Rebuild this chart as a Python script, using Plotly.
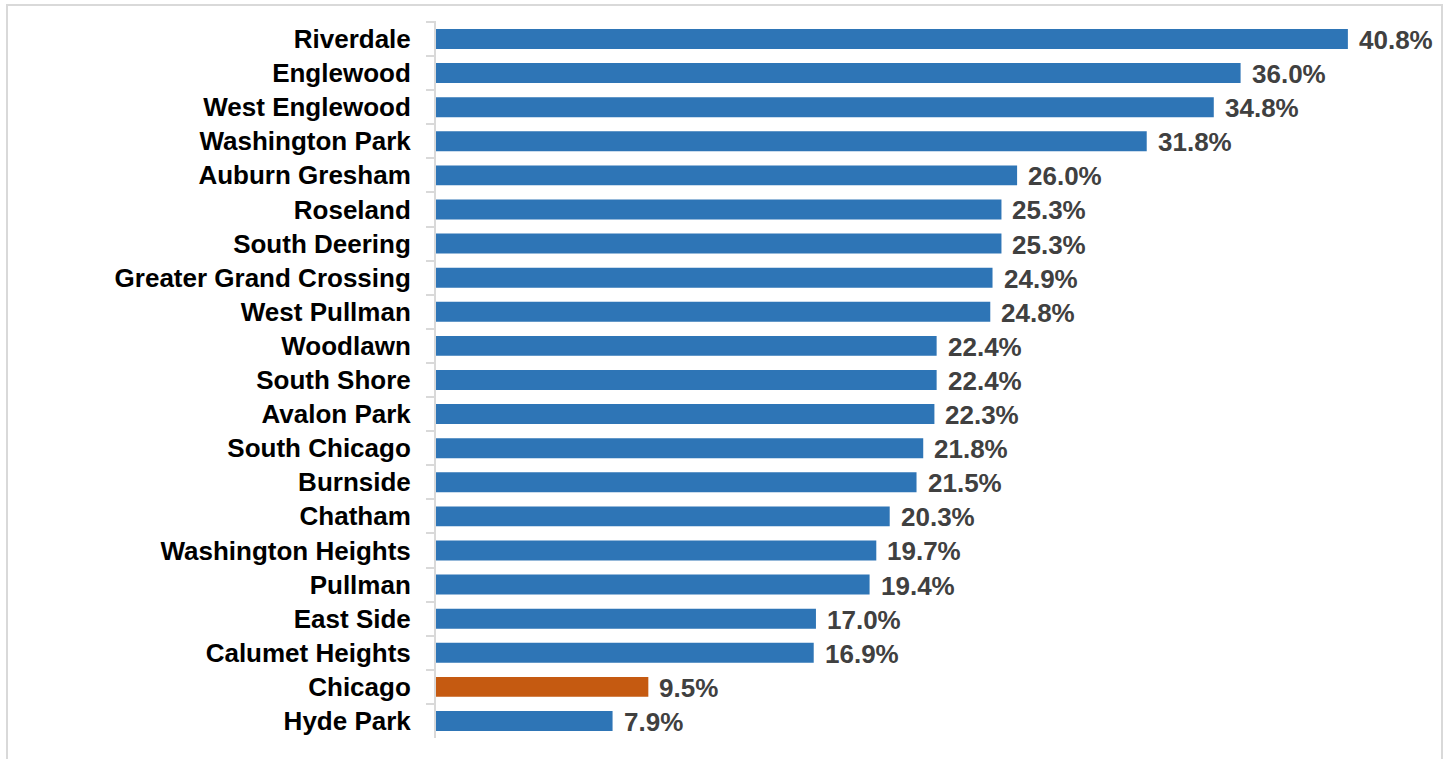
import plotly.graph_objects as go

# Community areas, top to bottom, and their rates (%)
areas = [
    "Riverdale", "Englewood", "West Englewood", "Washington Park", "Auburn Gresham",
    "Roseland", "South Deering", "Greater Grand Crossing", "West Pullman", "Woodlawn",
    "South Shore", "Avalon Park", "South Chicago", "Burnside", "Chatham",
    "Washington Heights", "Pullman", "East Side", "Calumet Heights", "Chicago", "Hyde Park",
]
rates = [
    40.8, 36.0, 34.8, 31.8, 26.0,
    25.3, 25.3, 24.9, 24.8, 22.4,
    22.4, 22.3, 21.8, 21.5, 20.3,
    19.7, 19.4, 17.0, 16.9, 9.5, 7.9,
]

BLUE = "#2E75B6"
ORANGE = "#C55A11"
colors = [ORANGE if a == "Chicago" else BLUE for a in areas]

FONT = "Liberation Sans"

fig = go.Figure()
fig.add_trace(go.Bar(
    x=rates,
    y=areas,
    orientation="h",
    marker=dict(color=colors, line=dict(width=0)),
    hoverinfo="x+y",
))

# Value labels just past the end of each bar
for a, v in zip(areas, rates):
    fig.add_annotation(
        x=v, y=a, xref="x", yref="y",
        text=f"<b>{v:.1f}%</b>",
        showarrow=False, xanchor="left", yanchor="middle",
        xshift=9, yshift=-1,
        font=dict(family=FONT, size=26, color="#404040"),
    )

L, R, T, B = 436, 7, 21, 21
W, H = 1450, 759
pw = W - L - R
ph = H - T - B

# Light frame around the whole chart
fig.add_shape(
    type="rect", xref="paper", yref="paper",
    x0=(7 - L) / pw, x1=(1442 - L) / pw,
    y0=-(B + 5) / ph, y1=(H - B - 5) / ph,
    line=dict(color="#D9D9D9", width=2), fillcolor="rgba(0,0,0,0)",
    layer="below",
)

fig.update_layout(
    width=W, height=H,
    margin=dict(l=L, r=R, t=T, b=B),
    paper_bgcolor="white", plot_bgcolor="white",
    bargap=0.415,
    showlegend=False,
    xaxis=dict(range=[0, pw / 22.35], visible=False, fixedrange=True),
    yaxis=dict(
        categoryorder="array", categoryarray=areas, autorange="reversed",
        showline=True, linecolor="#D9D9D9", linewidth=2,
        ticks="outside", tickson="boundaries", ticklen=8, tickcolor="#D9D9D9", tickwidth=2,
        ticklabelstandoff=18,
        tickfont=dict(family=FONT, size=26, color="#000000", weight="bold"),
        showgrid=False, zeroline=False,
    ),
)

fig.write_html("out.html")
